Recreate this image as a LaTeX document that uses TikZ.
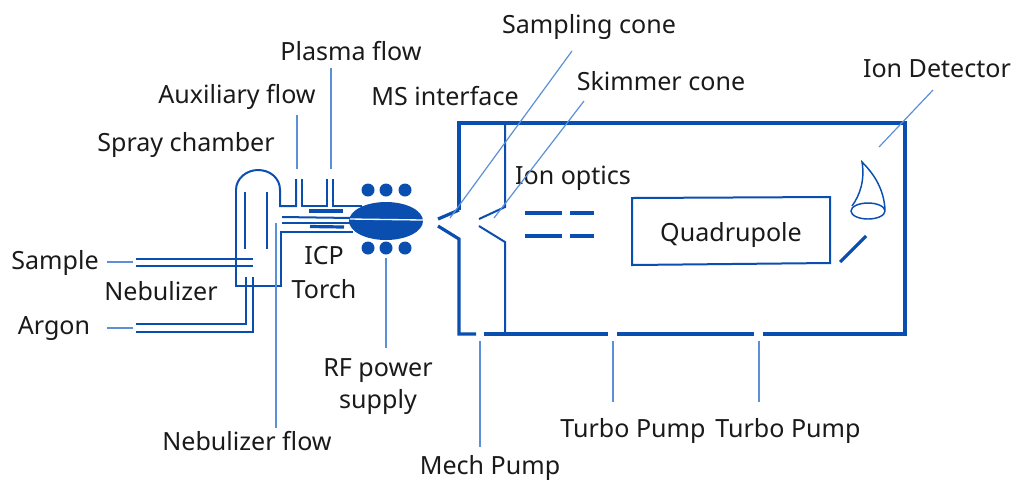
\documentclass[tikz,border=0pt]{standalone}
\usepackage{fontspec}
\setmainfont{Noto Sans}
\definecolor{dblue}{HTML}{0A4FB0}
\definecolor{lblue}{HTML}{5B8FD8}
\definecolor{txt}{HTML}{1A1A1A}
\tikzset{
  main/.style={draw=dblue,line width=2.4pt,line cap=butt},
  pipe/.style={draw=dblue,line width=1.5pt},
  bar/.style={draw=dblue,line width=2.4pt},
  leader/.style={draw=lblue,line width=0.9pt},
  lab/.style={text=txt,font=\fontsize{18.8}{22}\selectfont,inner sep=0pt,align=center}
}
\begin{document}
\begin{tikzpicture}[x=0.75pt,y=-0.75pt,line join=miter]
\useasboundingbox (0,0) rectangle (1012,480);
% labels
\node[lab] (sc) at (589,27) {Sampling cone};
\node[lab] (sk) at (661,81) {Skimmer cone};
\node[lab] (pf) at (351,51) {Plasma flow};
\node[lab] (af) at (237,97) {Auxiliary flow};
\node[lab] (ms) at (445,96) {MS interface};
\node[lab] (sp) at (186,145) {Spray chamber};
\node[lab] (id) at (937,69) {Ion Detector};
\node[lab] (io) at (573,178) {Ion optics};
\node[lab] (qd) at (731,235) {Quadrupole};
\node[lab] (sa) at (55,263) {Sample};
\node[lab] (ar) at (54,329) {Argon};
\node[lab] (ne) at (161,291) {Nebulizer};
\node[lab] (ic) at (324,256) {ICP};
\node[lab] (to) at (324,289) {Torch};
\node[lab] (rf) at (378,371) {RF power};
\node[lab] (su) at (378,402) {supply};
\node[lab] (nf) at (247,441) {Nebulizer flow};
\node[lab] (tp1) at (633,431) {Turbo Pump};
\node[lab] (tp2) at (788,431) {Turbo Pump};
\node[lab] (mp) at (490,468) {Mech Pump};
% main chamber
\draw[main] (459,210) -- (459,123) -- (905,123) -- (905,334) -- (763,334);
\draw[main] (754,334) -- (617,334);
\draw[main] (608,334) -- (484,334);
\draw[main] (476,334) -- (459,334) -- (459,239) -- (438,226);
\draw[main] (459,210) -- (438,219);
\draw[pipe] (505,123) -- (505,207) -- (479,219);
\draw[pipe] (479,226) -- (505,242) -- (505,334);
% ion optics
\draw[bar] (525,213) -- (562,213);
\draw[bar] (570,213) -- (594,213);
\draw[bar] (525,236) -- (562,236);
\draw[bar] (570,236) -- (594,236);
% quadrupole
\draw[pipe] (632,198) -- (830,197) -- (830,263) -- (632,265) -- cycle;
% detector
\draw[draw=dblue,line width=1.1pt] (868,211) ellipse [x radius=17,y radius=8];
\draw[draw=dblue,line width=1.1pt] (852,206) .. controls (860,195) and (865,180) .. (862,162) .. controls (875,175) and (884,190) .. (885,210);
\draw[bar] (840,262) -- (866,236);
% spray chamber
\draw[pipe] (236,190) -- (236,286) -- (281,286) -- (281,232) -- (353,232);
\draw[pipe] (236,190) .. controls (236,178) and (247,170) .. (258,170) .. controls (270,170) and (280,178) .. (280,190) -- (280,206) -- (296,206) -- (296,179);
\draw[pipe] (302,179) -- (302,206) -- (327,206) -- (327,179);
\draw[pipe] (333,179) -- (333,206) -- (362,206);
\draw[pipe] (245,192) -- (245,249);
\draw[pipe] (267,192) -- (267,249);
% torch
\draw[pipe] (282,217) -- (352,218);
\draw[pipe] (282,223) -- (352,223);
\draw[bar] (309,211) -- (343,211);
\draw[bar] (310,226.500) -- (344,227);
\fill[dblue] (386,221) ellipse [x radius=37,y radius=19];
\draw[white,line width=1pt] (350,219) -- (423,220);
\foreach \x in {368,386,405}{
  \fill[dblue] (\x,190) circle [radius=6.5];
  \fill[dblue] (\x,248) circle [radius=6.5];
}
% nebuliser pipes
\draw[pipe] (136,259) -- (253,259);
\draw[pipe] (136,266) -- (253,266);
\draw[pipe] (136,324) -- (246,324) -- (246,277);
\draw[pipe] (136,332) -- (253,332) -- (253,277);
% leaders
\coordinate (a1) at (107,262); \coordinate (a2) at (133,262);
\draw[leader] (a1) -- (a2);
\coordinate (b1) at (107,328); \coordinate (b2) at (133,328);
\draw[leader] (b1) -- (b2);
\draw[leader] (297,115) -- (297,169);
\draw[leader] (331,68) -- (331,169);
\draw[leader] (276,223) -- (276,428);
\draw[leader] (386,258) -- (386,348);
\draw[leader] (480,341) -- (480,447);
\draw[leader] (613,341) -- (613,402);
\draw[leader] (759,341) -- (759,402);
\draw[leader] (450,218) -- (572,51);
\draw[leader] (494,218) -- (584,101);
\draw[leader] (879,147) -- (933,90);
\end{tikzpicture}
\end{document}
